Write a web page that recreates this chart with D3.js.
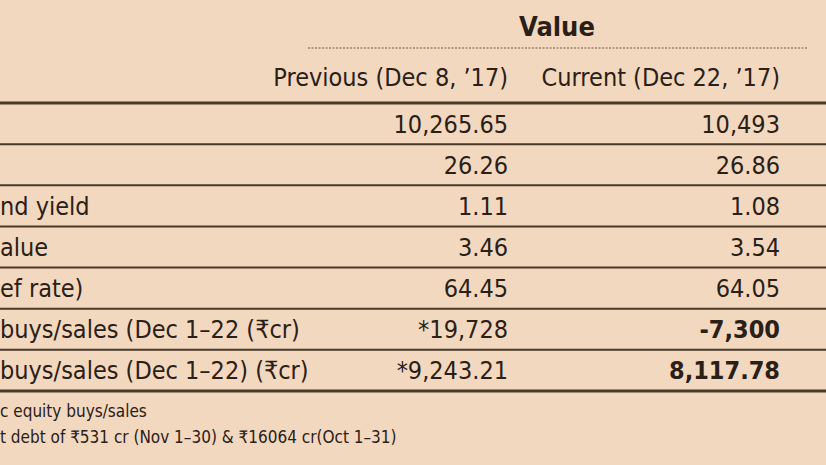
<!DOCTYPE html>
<html><head><meta charset="utf-8">
<script src="https://cdn.jsdelivr.net/npm/d3@7"></script>
<style>body{margin:0;background:#f2d8bf}svg{display:block}</style>
</head><body><svg width="826" height="465"></svg>
<script>
var svg = d3.select('svg');
var font = '"Liberation Sans Narrow","DejaVu Sans Condensed",sans-serif';

// table content
var labels = ['', '', 'nd yield', 'alue', 'ef rate)', ' buys/sales (Dec 1\u201322 (\u20b9cr)', ' buys/sales (Dec 1\u201322) (\u20b9cr)'];
var previous = ['10,265.65', '26.26', '1.11', '3.46', '64.45', '*19,728', '*9,243.21'];
var current = ['10,493', '26.86', '1.08', '3.54', '64.05', '-7,300', '8,117.78'];
var boldCurrent = [false, false, false, false, false, true, true];
var columns = ['Previous (Dec 8, \u201917)', 'Current (Dec 22, \u201917)'];
var notes = ['c equity buys/sales', 't debt of \u20b9531 cr (Nov 1\u201330) & \u20b916064 cr(Oct 1\u201331)'];

svg.append('rect').attr('width', 826).attr('height', 465).attr('fill', '#f2d8bf');

var y = d3.scaleBand().domain(d3.range(labels.length)).range([103, 391]);
var colX = [508, 780];

svg.append('text').attr('x', 557).attr('y', 36).attr('text-anchor', 'middle')
    .attr('font-family', font).attr('font-weight', 'bold').attr('font-size', 27)
    .attr('fill', '#2a2018').text('Value');
svg.append('line').attr('x1', 308).attr('x2', 808).attr('y1', 48).attr('y2', 48)
    .attr('stroke', '#6a5a4a').attr('stroke-width', 1.2).attr('stroke-dasharray', '2,1.5');

columns.forEach(function (c, i) {
    svg.append('text').attr('x', colX[i]).attr('y', 86).attr('text-anchor', 'end')
        .attr('font-family', font).attr('font-size', 25).attr('fill', '#2a2018').text(c);
});

// row separators
var lines = d3.range(labels.length + 1).map(function (i) { return i < labels.length ? y(i) : y.range()[1]; });
svg.selectAll('line.sep').data(lines).enter().append('line')
    .attr('x1', 0).attr('x2', 826)
    .attr('y1', function (d) { return d; }).attr('y2', function (d) { return d; })
    .attr('stroke', '#4a3828')
    .attr('stroke-width', function (d, i) { return (i === 0 || i === labels.length) ? 3 : 2; });

var rows = svg.selectAll('g.row').data(labels).enter().append('g')
    .attr('transform', function (d, i) { return 'translate(0,' + (y(i) + y.bandwidth() / 2 + 9) + ')'; })
    .attr('font-family', font).attr('font-size', 25).attr('fill', '#2a2018');
rows.append('text').attr('x', 0).text(function (d) { return d; });
rows.append('text').attr('x', colX[0]).attr('text-anchor', 'end').text(function (d, i) { return previous[i]; });
rows.append('text').attr('x', colX[1]).attr('text-anchor', 'end')
    .attr('font-weight', function (d, i) { return boldCurrent[i] ? 'bold' : 'normal'; })
    .text(function (d, i) { return current[i]; });

notes.forEach(function (n, i) {
    svg.append('text').attr('x', 0).attr('y', 417 + i * 26).attr('font-family', font)
        .attr('font-size', 17).attr('fill', '#2a2018').text(n);
});
</script></body></html>
